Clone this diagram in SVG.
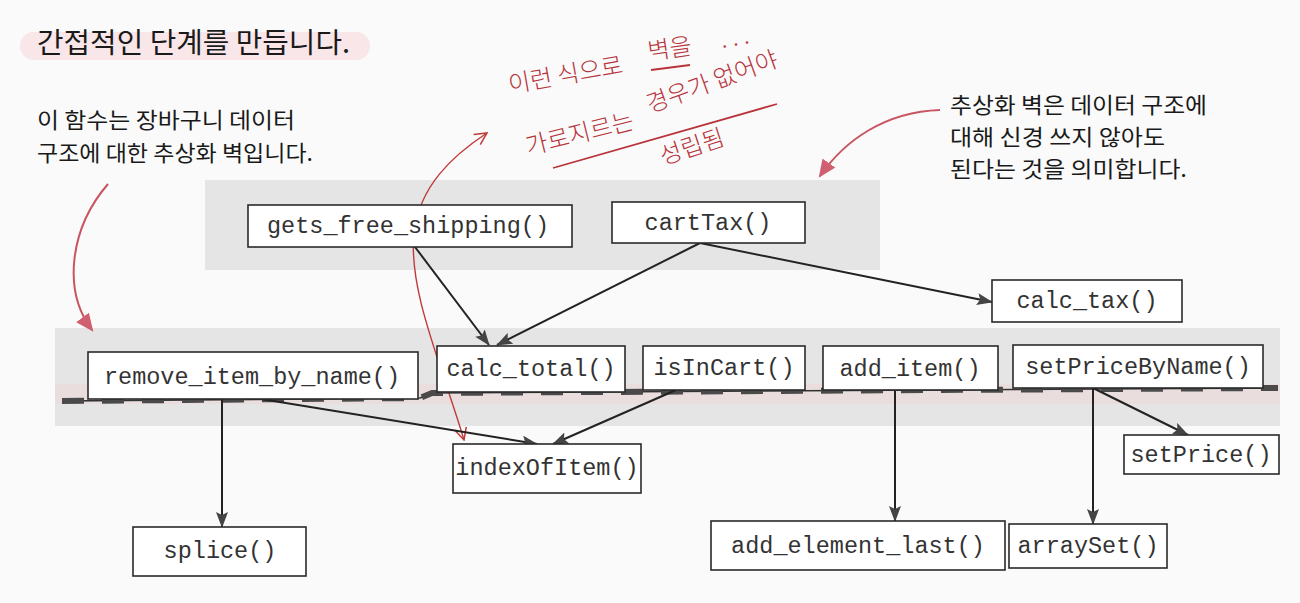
<svg xmlns="http://www.w3.org/2000/svg" width="1300" height="603" viewBox="0 0 1300 603">
  <defs>
    <marker id="ah" viewBox="0 0 16 12" refX="15" refY="6" markerWidth="16" markerHeight="12" markerUnits="userSpaceOnUse" orient="auto">
      <path d="M0,0 L16,6 L0,12 L3,6 z" fill="#444"/>
    </marker>
    <marker id="rh" viewBox="0 0 16 14" refX="14" refY="7" markerWidth="18" markerHeight="16" markerUnits="userSpaceOnUse" orient="auto">
      <path d="M0,0 L16,7 L0,14 z" fill="#d06070"/>
    </marker>
    <marker id="ro" viewBox="0 0 14 14" refX="13" refY="7" markerWidth="14" markerHeight="14" markerUnits="userSpaceOnUse" orient="auto-start-reverse">
      <path d="M1,1 L13,7 L1,13" fill="none" stroke="#c03a3a" stroke-width="1.5"/>
    </marker>
  </defs>
  <style>
    .band { fill: #e5e5e5; }
    .box { fill: #ffffff; stroke: #2a2a2a; stroke-width: 1.6; }
    .code { font-family: "Liberation Mono", "DejaVu Sans Mono", monospace; font-size: 23.5px; fill: #333; text-anchor: middle; }
    .ko { font-family: "Noto Sans CJK KR", "Noto Sans", sans-serif; fill: #1a1a1a; }
    .hand { font-family: "Noto Sans CJK KR", sans-serif; fill: #b8333a; font-size: 24px; font-weight: 300; }
    .edge { stroke: #222; stroke-width: 2; fill: none; marker-end: url(#ah); }
    .red { stroke: #c85560; stroke-width: 2; fill: none; }
  </style>
  <rect x="0" y="0" width="1300" height="603" fill="#fafafa"/>

  <!-- highlight & bands -->
  <rect x="20" y="32" width="350" height="28" rx="14" fill="#f4c9cf" opacity="0.4"/>
  <rect class="band" x="205" y="180" width="675" height="90"/>
  <rect class="band" x="55" y="328" width="1225" height="98"/>
  <rect x="55" y="384" width="1225" height="20" fill="#f2cdd2" opacity="0.35"/>

  <!-- texts -->
  <text class="ko" x="37" y="53" font-size="28" textLength="313" lengthAdjust="spacingAndGlyphs">간접적인 단계를 만듭니다.</text>
  <text class="ko" x="37" y="128" font-size="22" textLength="258" lengthAdjust="spacingAndGlyphs">이 함수는 장바구니 데이터</text>
  <text class="ko" x="37" y="161" font-size="22" textLength="276" lengthAdjust="spacingAndGlyphs">구조에 대한 추상화 벽입니다.</text>
  <text class="ko" x="950" y="113" font-size="22" textLength="257" lengthAdjust="spacingAndGlyphs">추상화 벽은 데이터 구조에</text>
  <text class="ko" x="950" y="145" font-size="22" textLength="215" lengthAdjust="spacingAndGlyphs">대해 신경 쓰지 않아도</text>
  <text class="ko" x="950" y="177" font-size="22" textLength="237" lengthAdjust="spacingAndGlyphs">된다는 것을 의미합니다.</text>

  <!-- handwritten notes -->
  <g id="handnote">
    <text class="hand" transform="translate(510,93) rotate(-10)">이런 식으로</text>
    <text class="hand" transform="translate(649,60) rotate(-8)">벽을</text>
    <text class="hand" transform="translate(722,48) rotate(-10)">. . .</text>
    <text class="hand" transform="translate(528,155) rotate(-14)">가로지르는</text>
    <text class="hand" transform="translate(650,113) rotate(-20)">경우가 없어야</text>
    <text class="hand" transform="translate(663,165) rotate(-18)">성립됨</text>
    <path d="M651,70 L690,65" stroke="#b8333a" stroke-width="1.8" fill="none"/>
    <path d="M553,168 L777,104" stroke="#b8333a" stroke-width="1.8" fill="none"/>
  </g>

  <!-- red annotation arrows -->
  <g id="red-arrows">
    <path class="red" d="M108,184 C70,228 62,290 92,330" marker-end="url(#rh)"/>
    <path class="red" d="M940,110 C885,112 845,140 820,176" marker-end="url(#rh)"/>
    <path d="M464,440 C440,360 408,290 414,232 C420,186 452,156 487,133" stroke="#c03a3a" stroke-width="1.4" fill="none" marker-end="url(#ro)" marker-start="url(#ro)"/>
  </g>

  <!-- dashed wall line -->
  <g id="wall">
    <polyline points="62,401 420,398 432,393 1278,388" fill="none" stroke="#333" stroke-width="1.6"/>
    <polyline points="62,401 420,398 432,393 1278,388" fill="none" stroke="#4a4a4a" stroke-width="6" stroke-dasharray="22 18"/>
  </g>

  <!-- connectors -->
  <g id="connectors">
    <line class="edge" x1="415" y1="247" x2="489" y2="345"/>
    <line class="edge" x1="700" y1="243" x2="497" y2="345"/>
    <line class="edge" x1="700" y1="243" x2="992" y2="302"/>
    <line class="edge" x1="222" y1="400" x2="222" y2="527"/>
    <line class="edge" x1="255" y1="398" x2="537" y2="444"/>
    <line class="edge" x1="676" y1="390" x2="553" y2="444"/>
    <line class="edge" x1="895" y1="391" x2="895" y2="521"/>
    <line class="edge" x1="1093" y1="388" x2="1093" y2="524"/>
    <line class="edge" x1="1093" y1="388" x2="1188" y2="435"/>
  </g>

  <!-- nodes -->
  <g id="gets_free_shipping"><rect class="box" x="248" y="205" width="324" height="42"/><text class="code" x="408" y="233">gets_free_shipping()</text></g>
  <g id="cartTax"><rect class="box" x="612" y="202" width="193" height="41"/><text class="code" x="708" y="230">cartTax()</text></g>
  <g id="calc_tax"><rect class="box" x="992" y="280" width="190" height="42"/><text class="code" x="1087" y="308">calc_tax()</text></g>
  <g id="remove_item_by_name"><rect class="box" x="88" y="352" width="330" height="47"/><text class="code" x="252" y="384">remove_item_by_name()</text></g>
  <g id="calc_total"><rect class="box" x="437" y="346" width="188" height="46"/><text class="code" x="531" y="376">calc_total()</text></g>
  <g id="isInCart"><rect class="box" x="643" y="346" width="162" height="44"/><text class="code" x="724" y="375">isInCart()</text></g>
  <g id="add_item"><rect class="box" x="823" y="346" width="175" height="44"/><text class="code" x="910" y="376">add_item()</text></g>
  <g id="setPriceByName"><rect class="box" x="1013" y="345" width="250" height="43"/><text class="code" x="1138" y="374">setPriceByName()</text></g>
  <g id="indexOfItem"><rect class="box" x="453" y="444" width="188" height="49"/><text class="code" x="547" y="475">indexOfItem()</text></g>
  <g id="setPrice"><rect class="box" x="1124" y="435" width="155" height="39"/><text class="code" x="1201" y="462">setPrice()</text></g>
  <g id="splice"><rect class="box" x="133" y="527" width="173" height="49"/><text class="code" x="220" y="558">splice()</text></g>
  <g id="add_element_last"><rect class="box" x="711" y="521" width="294" height="49"/><text class="code" x="858" y="553">add_element_last()</text></g>
  <g id="arraySet"><rect class="box" x="1009" y="524" width="158" height="44"/><text class="code" x="1088" y="553">arraySet()</text></g>
</svg>
